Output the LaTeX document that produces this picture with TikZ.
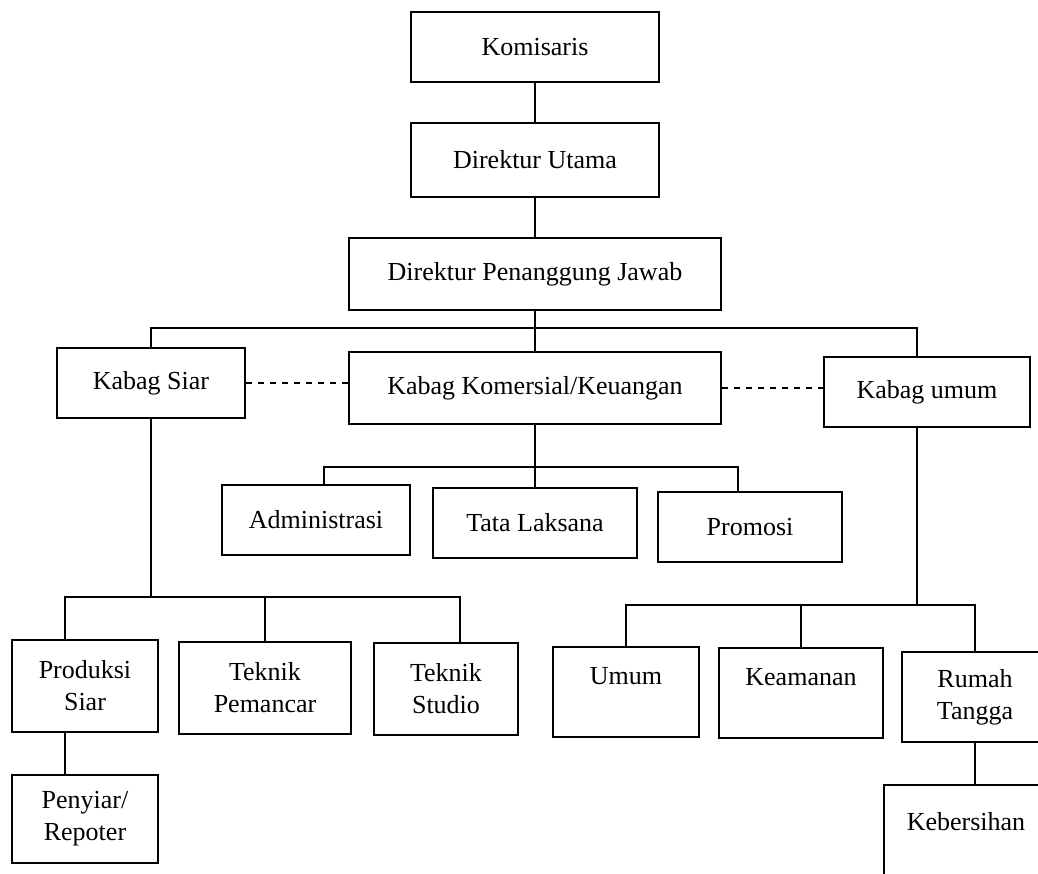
\documentclass[tikz,border=0pt]{standalone}
\usepackage{fontspec}
\setmainfont{Liberation Serif}

\begin{document}
\begin{tikzpicture}[x=0.5pt, y=-0.5pt,
  box/.style={draw, line width=1pt, align=center, inner sep=2pt, font=\fontsize{13}{16}\selectfont},
  link/.style={line width=0.9pt},
  side/.style={line width=0.9pt, dashed}]

\useasboundingbox (0,0) rectangle (1038,873);
\clip (0,0) rectangle (1038,873);

% define nodes

% top

\node[box, minimum width=124pt, minimum height=35pt] (kom) at (535,47) {Komisaris};
\node[box, minimum width=124pt, minimum height=37pt] (dirut) at (535,160) {Direktur Utama};
\node[box, minimum width=186pt, minimum height=36pt] (dpj) at (535,274) {Direktur Penanggung Jawab};

% kabag

\node[box, minimum width=94pt, minimum height=35pt] (siar) at (151,383) {Kabag Siar};
\node[box, minimum width=186pt, minimum height=36pt] (komr) at (535,388) {Kabag Komersial/Keuangan};
\node[box, minimum width=103pt, minimum height=35pt] (umum) at (927,392) {Kabag umum};

% komersial

\node[box, minimum width=94pt, minimum height=35pt] (adm) at (316,520) {Administrasi};
\node[box, minimum width=102pt, minimum height=35pt] (tata) at (535,523) {Tata Laksana};
\node[box, minimum width=92pt, minimum height=35pt] (promo) at (750,527) {Promosi};

% siar

\node[box, minimum width=73pt, minimum height=46pt] (prod) at (85,686) {Produksi\\Siar};
\node[box, minimum width=86pt, minimum height=46pt] (pem) at (265,688) {Teknik\\Pemancar};
\node[box, minimum width=72pt, minimum height=46pt] (studio) at (446,689) {Teknik\\Studio};
\node[box, minimum width=73pt, minimum height=44pt] (rep) at (85,819) {Penyiar/\\Repoter};

% umum

\node[box, minimum width=73pt, minimum height=45pt] (um) at (626,692) {Umum\\\mbox{}};
\node[box, minimum width=82pt, minimum height=45pt] (aman) at (801,693) {Keamanan\\\mbox{}};
\node[box, minimum width=73pt, minimum height=45pt] (rt) at (975,697) {Rumah\\Tangga};
\node[box, minimum width=82pt, minimum height=52pt] (bersih) at (966,837) {Kebersihan\\\mbox{}};

\coordinate (bus1) at (535,328);
\coordinate (bus2) at (535,467);
\coordinate (bus3) at (151,597);
\coordinate (bus4) at (917,605);

% edges

\draw[link] (kom) -- (dirut);
\draw[link] (dirut) -- (dpj);
\draw[link] (dpj) -- (komr);
\draw[link] (siar.north) |- (bus1) -| ([xshift=-5pt]umum.north);

\draw[side] (siar) -- (siar -| komr.west);
\draw[side] (komr) -- (komr -| umum.west);

\draw[link] (komr) -- (tata);
\draw[link] ([xshift=4pt]adm.north) |- (bus2) -| ([xshift=-6pt]promo.north);

\draw[link] (siar.south) -- (bus3);
\draw[link] ([xshift=-10pt]prod.north) |- (bus3) -| ([xshift=7pt]studio.north);
\draw[link] (pem.north) -- (pem.north |- bus3);
\draw[link] ([xshift=-10pt]prod.south) -- ([xshift=-10pt]rep.north);

\draw[link] ([xshift=-5pt]umum.south) -- (bus4);
\draw[link] (um.north) |- (bus4) -| (rt.north);
\draw[link] (aman.north) -- (aman.north |- bus4);
\draw[link] (rt.south) -- (rt.south |- bersih.north);

\end{tikzpicture}
\end{document}
